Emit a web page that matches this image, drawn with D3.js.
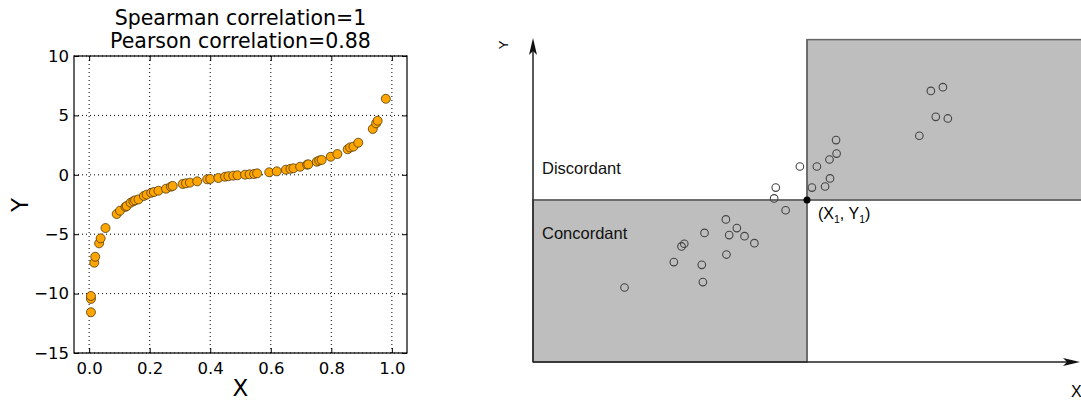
<!DOCTYPE html>
<meta charset="utf-8">
<script src="https://d3js.org/d3.v7.min.js"></script>
<style>
  body { margin: 0; background: #fff; }
  svg { display: block; }
</style>
<body>
<div id="chart"></div>
<script>
// left panel: sample points
var scatterX = [0.006, 0.006, 0.006, 0.017, 0.020, 0.033, 0.038, 0.054, 0.091, 0.102,
  0.120, 0.124, 0.137, 0.146, 0.152, 0.163, 0.181, 0.190, 0.205, 0.214,
  0.229, 0.254, 0.270, 0.276, 0.309, 0.320, 0.333, 0.357, 0.390, 0.400,
  0.427, 0.449, 0.460, 0.476, 0.490, 0.515, 0.530, 0.545, 0.555, 0.595,
  0.620, 0.650, 0.665, 0.675, 0.697, 0.720, 0.724, 0.752, 0.760, 0.768,
  0.798, 0.820, 0.854, 0.862, 0.873, 0.889, 0.937, 0.948, 0.953, 0.980];
var scatterY = [-11.57, -10.45, -10.2, -7.4, -6.9, -5.77, -5.35, -4.48, -3.30, -3.02,
  -2.70, -2.63, -2.35, -2.23, -2.15, -2.07, -1.78, -1.67, -1.52, -1.45,
  -1.34, -1.17, -1.00, -0.94, -0.77, -0.72, -0.66, -0.55, -0.38, -0.35,
  -0.27, -0.16, -0.12, -0.07, -0.04, 0.01, 0.04, 0.07, 0.12, 0.21,
  0.29, 0.43, 0.50, 0.55, 0.68, 0.85, 0.88, 1.10, 1.20, 1.25,
  1.52, 1.75, 2.15, 2.30, 2.37, 2.70, 3.86, 4.33, 4.55, 6.40];
var xTicks = [0.0, 0.2, 0.4, 0.6, 0.8, 1.0];
var yTicks = [-15, -10, -5, 0, 5, 10];
var titleLines = ["Spearman correlation=1", "Pearson correlation=0.88"];

// right panel: concordance diagram
var pivot = { x: 5.0, y: 3.0 };
var diagX = [4.87, 5.18, 5.09, 4.43, 4.40, 4.61, 3.52, 3.72, 3.13, 3.58,
  3.86, 4.04, 2.76, 2.71, 3.53, 2.57, 3.08, 3.10, 1.67, 5.33,
  5.42, 5.41, 5.54, 5.53, 7.05, 7.35, 7.57, 7.26, 7.48];
var diagY = [3.62, 3.62, 3.23, 3.23, 3.03, 2.81, 2.64, 2.48, 2.39, 2.35,
  2.33, 2.20, 2.19, 2.14, 1.99, 1.85, 1.80, 1.48, 1.38, 3.25,
  3.40, 3.75, 3.86, 4.11, 4.19, 4.54, 4.51, 5.02, 5.09];
var regionLabels = ["Discordant", "Concordant"];

var W = 1081, H = 400;
var svg = d3.select("#chart").append("svg")
  .attr("width", W).attr("height", H);

// ---------- left scatter ----------
var x = d3.scaleLinear().domain([-0.05, 1.05]).range([74, 407]);
var y = d3.scaleLinear().domain([-15, 10]).range([353, 56]);
var mpl = "'DejaVu Sans', sans-serif";

var left = svg.append("g");

// dotted grid
left.selectAll(".gx").data(xTicks).enter().append("line")
  .attr("x1", d => x(d)).attr("x2", d => x(d))
  .attr("y1", y(-15)).attr("y2", y(10))
  .attr("stroke", "#000").attr("stroke-width", 1)
  .attr("stroke-dasharray", "1,3");
left.selectAll(".gy").data(yTicks).enter().append("line")
  .attr("x1", x(-0.05)).attr("x2", x(1.05))
  .attr("y1", d => y(d)).attr("y2", d => y(d))
  .attr("stroke", "#000").attr("stroke-width", 1)
  .attr("stroke-dasharray", "1,3");

left.selectAll(".pt").data(scatterX.map((v, i) => [v, scatterY[i]]))
  .enter().append("circle")
  .attr("cx", d => x(d[0])).attr("cy", d => y(d[1]))
  .attr("r", 4.5)
  .attr("fill", "#ffa500")
  .attr("stroke", "#3a2a00").attr("stroke-width", 0.7);

// axes with inward ticks
var axB = d3.axisBottom(x).tickValues(xTicks).tickSize(-5).tickPadding(9).tickFormat(d3.format(".1f"));
var axT = d3.axisTop(x).tickValues(xTicks).tickSize(-5).tickFormat("");
var axL = d3.axisLeft(y).tickValues(yTicks).tickSize(-5).tickPadding(5)
  .tickFormat(d => d < 0 ? "\u2212" + Math.abs(d) : d);
var axR = d3.axisRight(y).tickValues(yTicks).tickSize(-5).tickFormat("");

[[axB, "translate(0," + y(-15) + ")"], [axT, "translate(0," + y(10) + ")"],
 [axL, "translate(" + x(-0.05) + ",0)"], [axR, "translate(" + x(1.05) + ",0)"]]
  .forEach(function (a) {
    var g = left.append("g").attr("transform", a[1]).call(a[0]);
    g.select(".domain").remove();
    g.selectAll("text").style("font-family", mpl).style("font-size", "16.5px").attr("fill", "#000");
  });

left.append("rect")
  .attr("x", x(-0.05)).attr("y", y(10))
  .attr("width", x(1.05) - x(-0.05)).attr("height", y(-15) - y(10))
  .attr("fill", "none").attr("stroke", "#000").attr("stroke-width", 1.2);

left.selectAll(".title").data(titleLines).enter().append("text")
  .attr("x", (x(-0.05) + x(1.05)) / 2)
  .attr("y", (d, i) => 25 + i * 23)
  .attr("text-anchor", "middle")
  .style("font-family", mpl).style("font-size", "20.5px")
  .text(d => d);

left.append("text")
  .attr("x", (x(-0.05) + x(1.05)) / 2).attr("y", 396)
  .attr("text-anchor", "middle")
  .style("font-family", mpl).style("font-size", "23px")
  .text("X");
left.append("text")
  .attr("transform", "translate(28,205) rotate(-90)")
  .attr("text-anchor", "middle")
  .style("font-family", mpl).style("font-size", "23px")
  .text("Y");

// ---------- right diagram ----------
var dx = d3.scaleLinear().domain([0, 10]).range([533, 1081]);
var dy = d3.scaleLinear().domain([0, 6]).range([362, 38]);
var right = svg.append("g");
var sans = "'Liberation Sans', Arial, sans-serif";

// shaded quadrants
right.append("rect")
  .attr("x", dx(pivot.x)).attr("y", dy(5.97))
  .attr("width", dx(10.2) - dx(pivot.x)).attr("height", dy(pivot.y) - dy(5.97))
  .attr("fill", "#bebebe").attr("stroke", "#666").attr("stroke-width", 1.5);
right.append("rect")
  .attr("x", dx(0)).attr("y", dy(pivot.y))
  .attr("width", dx(pivot.x) - dx(0)).attr("height", dy(0) - dy(pivot.y))
  .attr("fill", "#bebebe").attr("stroke", "#666").attr("stroke-width", 1.5);
right.append("line")
  .attr("x1", dx(0)).attr("x2", dx(10))
  .attr("y1", dy(pivot.y)).attr("y2", dy(pivot.y))
  .attr("stroke", "#666").attr("stroke-width", 1.5);
right.append("line")
  .attr("x1", dx(pivot.x)).attr("x2", dx(pivot.x))
  .attr("y1", dy(0)).attr("y2", dy(5.97))
  .attr("stroke", "#666").attr("stroke-width", 1.5);

// axes with arrowheads
right.append("line")
  .attr("x1", dx(0)).attr("y1", dy(0))
  .attr("x2", dx(0)).attr("y2", dy(6) + 8)
  .attr("stroke", "#222").attr("stroke-width", 1.5);
right.append("line")
  .attr("x1", dx(0)).attr("y1", dy(0))
  .attr("x2", dx(10) - 8).attr("y2", dy(0))
  .attr("stroke", "#222").attr("stroke-width", 1.5);
var ax0 = dx(0), ay0 = dy(6);
right.append("path")
  .attr("d", "M" + ax0 + "," + ay0 + " L" + (ax0 + 4) + "," + (ay0 + 17) +
    " L" + ax0 + "," + (ay0 + 13) + " L" + (ax0 - 4) + "," + (ay0 + 17) + " Z")
  .attr("fill", "#111");
var bx0 = dx(10) - 1, by0 = dy(0);
right.append("path")
  .attr("d", "M" + bx0 + "," + by0 + " L" + (bx0 - 17) + "," + (by0 - 4) +
    " L" + (bx0 - 13) + "," + by0 + " L" + (bx0 - 17) + "," + (by0 + 4) + " Z")
  .attr("fill", "#111");

right.append("text")
  .attr("transform", "translate(508,45) rotate(-90)")
  .attr("text-anchor", "middle")
  .style("font-family", sans).style("font-size", "13px")
  .text("Y");
right.append("text")
  .attr("x", 1071).attr("y", 397)
  .style("font-family", sans).style("font-size", "16px")
  .text("X");

right.selectAll(".lbl").data(regionLabels).enter().append("text")
  .attr("x", 542)
  .attr("y", (d, i) => i === 0 ? 174 : 239)
  .style("font-family", sans).style("font-size", "16.5px")
  .attr("fill", "#111")
  .text(d => d);

right.selectAll(".dp").data(diagX.map((v, i) => [v, diagY[i]]))
  .enter().append("circle")
  .attr("cx", d => dx(d[0])).attr("cy", d => dy(d[1]))
  .attr("r", 3.8)
  .attr("fill", "none")
  .attr("stroke", "#444").attr("stroke-width", 1.1);

right.append("circle")
  .attr("cx", dx(pivot.x)).attr("cy", dy(pivot.y))
  .attr("r", 3.5).attr("fill", "#000");

var pl = right.append("text")
  .attr("x", dx(pivot.x) + 11).attr("y", dy(pivot.y) + 19)
  .style("font-family", sans).style("font-size", "16px");
pl.append("tspan").text("(X");
pl.append("tspan").attr("dy", 4).style("font-size", "10.5px").text("1");
pl.append("tspan").attr("dy", -4).text(", Y");
pl.append("tspan").attr("dy", 4).style("font-size", "10.5px").text("1");
pl.append("tspan").attr("dy", -4).text(")");
</script>
</body>
